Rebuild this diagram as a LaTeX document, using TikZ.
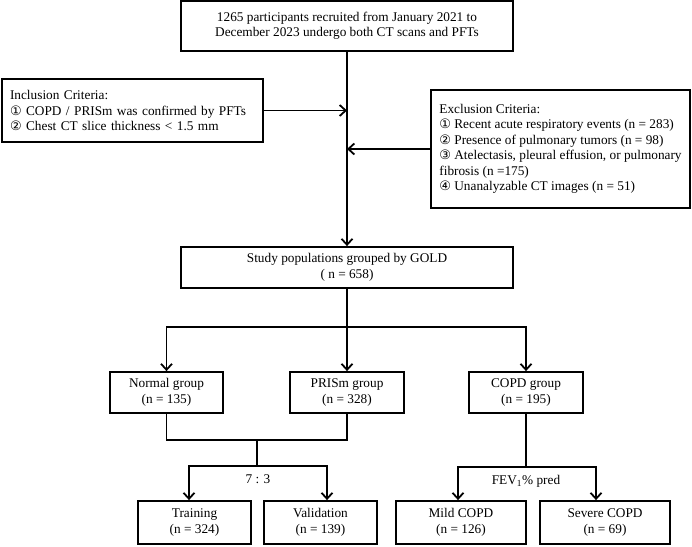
\documentclass[tikz,border=0pt]{standalone}
\usepackage{fontspec}
\setmainfont{Liberation Serif}
\newfontfamily\circfont{DejaVu Sans}
\usetikzlibrary{arrows.meta}
\newcommand{\cnum}[1]{{\circfont\fontsize{13}{15.5}\selectfont #1}}

\begin{document}
\begin{tikzpicture}[x=1pt,y=-1pt,line cap=round,
  box/.style={draw,line width=1.8pt,inner sep=0pt,align=center,font=\fontsize{13.3}{15.5}\selectfont},
  crit/.style={box,align=left,inner xsep=8pt},
  link/.style={line width=1.8pt},
  arr/.style={-{Straight Barb[length=6pt,width=11pt]}}]
  \useasboundingbox (0,0) rectangle (692,546);

  % Recruitment and screening criteria
  \node[box,minimum width=332pt,minimum height=50pt] (recruit) at (347,26)
    {1265 participants recruited from January 2021 to\\December 2023 undergo both CT scans and PFTs};
  \node[crit,minimum width=261pt,minimum height=63pt,text width=245pt] (incl) at (132.5,110.5)
    {Inclusion Criteria:\\\cnum{①} COPD / PRISm was confirmed by PFTs\\\cnum{②} Chest CT slice thickness < 1.5 mm};
  \node[crit,minimum width=259pt,minimum height=118pt] (excl) at (560.5,149)
    {Exclusion Criteria:\\\cnum{①} Recent acute respiratory events (n = 283)\\\cnum{②} Presence of pulmonary tumors (n = 98)\\\cnum{③} Atelectasis, pleural effusion, or pulmonary\\fibrosis (n =175)\\\cnum{④} Unanalyzable CT images (n = 51)};
  \node[box,minimum width=332pt,minimum height=41pt] (study) at (347,267.5)
    {Study populations grouped by GOLD\\( n = 658)};

  \draw[link,arr] (recruit.south) -- (study.north);
  \draw[link,arr] (incl.east) -- (incl.east -| recruit.south);
  \draw[link,arr] (excl.west) -- (excl.west -| recruit.south);

  % GOLD groups
  \node[box,minimum width=113pt,minimum height=41pt] (normal) at (166.5,392.5) {Normal group\\(n = 135)};
  \node[box,minimum width=114pt,minimum height=41pt] (prism) at (347,392.5) {PRISm group\\(n = 328)};
  \node[box,minimum width=114pt,minimum height=41pt] (copd) at (526,392.5) {COPD group\\(n = 195)};

  \coordinate (fork) at (347,327);
  \draw[link] (study.south) -- (fork);
  \draw[link,arr] (fork) -| (normal.north);
  \draw[link,arr] (fork) -- (prism.north);
  \draw[link,arr] (fork) -| (copd.north);

  % Training / validation split
  \node[box,minimum width=113pt,minimum height=43pt] (training) at (194.5,522.5) {Training\\(n = 324)};
  \node[box,minimum width=113pt,minimum height=43pt] (validation) at (320.5,522.5) {Validation\\(n = 139)};
  \coordinate (merge) at (257,440);
  \coordinate (ratio) at (257,466);
  \draw[link] (normal.south) |- (merge) -| (prism.south);
  \draw[link] (merge) -- (ratio);
  \draw[link,arr] (ratio) -| ([xshift=-5.5pt]training.north);
  \draw[link,arr] (ratio) -| ([xshift=6.5pt]validation.north);
  \node[font=\fontsize{13.3}{15.5}\selectfont] (ratiolabel) at (258,479) {7 : 3};

  % COPD severity
  \node[box,minimum width=130pt,minimum height=43pt] (mild) at (461,522.5) {Mild COPD\\(n = 126)};
  \node[box,minimum width=130pt,minimum height=43pt] (severe) at (605,522.5) {Severe COPD\\(n = 69)};
  \coordinate (severity) at (526,467);
  \draw[link] (copd.south) -- (severity);
  \draw[link,arr] (severity) -| ([xshift=-3pt]mild.north);
  \draw[link,arr] (severity) -| ([xshift=-9pt]severe.north);
  \node[font=\fontsize{13.3}{15.5}\selectfont] (fevlabel) at (526,481) {FEV\textsubscript{1}\% pred};
\end{tikzpicture}
\end{document}
